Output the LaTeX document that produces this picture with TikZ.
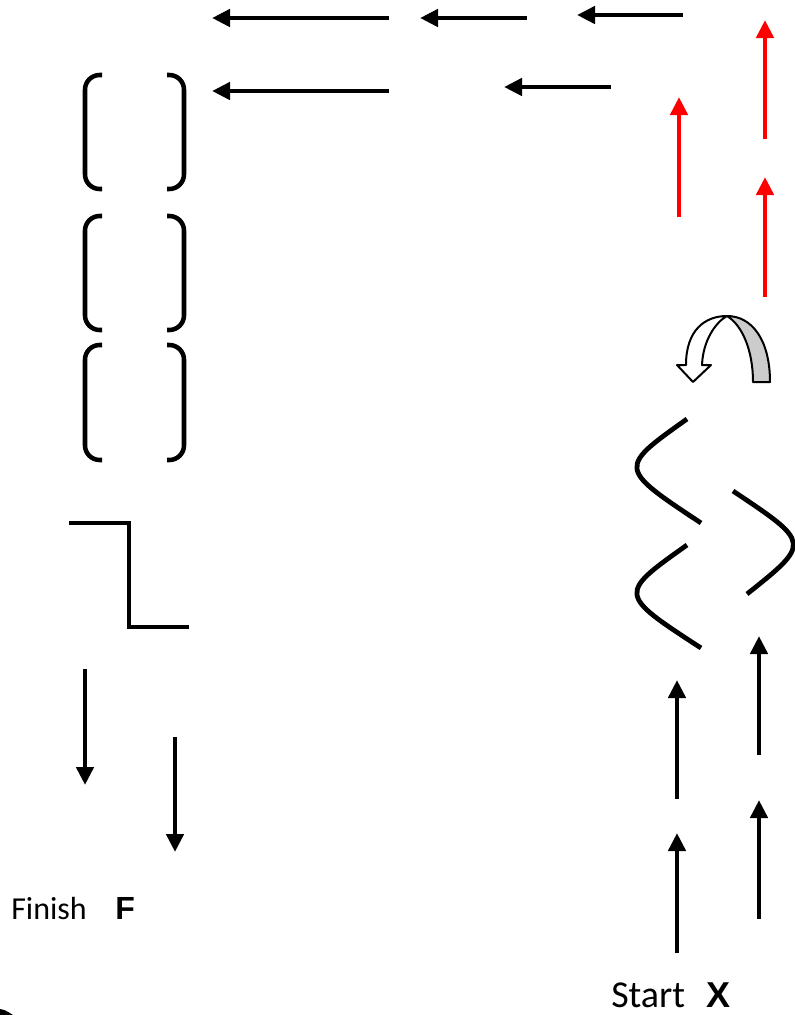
\documentclass[tikz,border=0pt]{standalone}
\usepackage{fontspec}
\setmainfont{Carlito}
\newfontfamily\lsans{Liberation Sans}
\usetikzlibrary{arrows.meta}
\definecolor{ribbongray}{RGB}{204,204,204}
\begin{document}
\begin{tikzpicture}[x=0.75pt,y=-0.75pt,
  arr/.style={line width=3.6pt,-{Triangle[length=13.5pt,width=12.75pt]}},
  redarr/.style={arr,red},
  brk/.style={line width=3.4pt,rounded corners=11pt},
  wave/.style={line width=3.6pt},
  ribbon/.style={line width=1.5pt,line join=round},
  lbl/.style={anchor=base west,inner sep=0pt}]
\useasboundingbox (0,0) rectangle (794,1015);

% top black arrows (pointing left)
\draw[arr] (389,18) -- (212,18);
\draw[arr] (527,18) -- (420,18);
\draw[arr] (683,15) -- (577,15);
\draw[arr] (389,91) -- (212,91);
\draw[arr] (611,87) -- (504,87);

% red arrows
\draw[redarr] (765,139) -- (765,20);
\draw[redarr] (679,217) -- (679,97);
\draw[redarr] (765,297) -- (765,177);

% U-turn ribbon arrow
\filldraw[ribbon,fill=ribbongray] (727,316) .. controls (752,316) and (770,340) .. (770,382)
  -- (753,382) .. controls (753,350) and (742,325) .. (727,316) -- cycle;
\filldraw[ribbon,fill=white] (727,316) .. controls (705,316) and (686,330) .. (686,365)
  -- (677,365) -- (693,382) -- (711,365) -- (702,365)
  .. controls (703,340) and (716,322) .. (727,316) -- cycle;

% wavy strands
\draw[wave] (687,419) .. controls (618,468) and (618,468) .. (701,523);
\draw[wave] (687,545) .. controls (618,594) and (618,594) .. (701,648);
\draw[wave] (733,491) .. controls (811,543) and (811,543) .. (747,594);

% brackets
\foreach \t/\b in {75/189, 216/330, 345/460}{
  \draw[brk] (102,\t) -- (85,\t) -- (85,\b) -- (102,\b);
  \draw[brk] (167,\t) -- (184,\t) -- (184,\b) -- (167,\b);
}

% step shape
\draw[line width=3.5pt] (69,523) -- (129,523) -- (129,627) -- (189,627);

% down arrows
\draw[arr] (85,669) -- (85,785);
\draw[arr] (175,737) -- (175,852);

% bottom right up arrows
\draw[arr] (677,799) -- (677,680);
\draw[arr] (759,755) -- (759,636);
\draw[arr] (677,953) -- (677,833);
\draw[arr] (759,919) -- (759,800);

% labels
\node[lbl,font=\fontsize{24}{28}\selectfont] (fin) at (11,919) {Finish};
\node[lbl,font=\lsans\bfseries\fontsize{24}{28}\selectfont] (finl) at (115,919) {F};
\node[lbl,font=\fontsize{28.5}{33}\selectfont] (start) at (611,1007) {Start};
\node[lbl,font=\lsans\bfseries\fontsize{27}{32}\selectfont] (startl) at (706,1007) {X};

% corner fragment
\fill (0,1009) .. controls (5,1010) .. (13,1015) -- (0,1015) -- cycle;
\end{tikzpicture}
\end{document}
